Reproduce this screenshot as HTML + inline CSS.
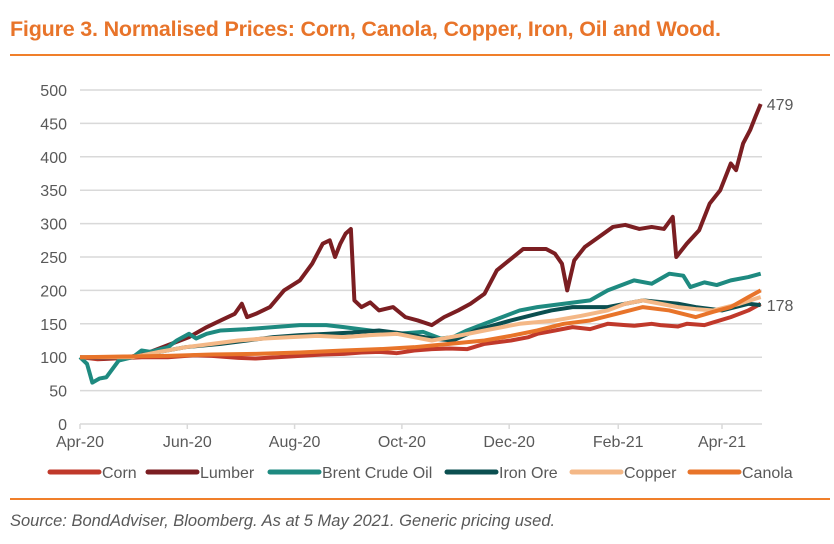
<!DOCTYPE html>
<html><head><meta charset="utf-8"><style>
body{margin:0;background:#fff;font-family:"Liberation Sans",Arial,sans-serif;}
#wrap{position:relative;width:834px;height:544px;overflow:hidden}
.title{position:absolute;left:10px;top:17px;font-size:21.5px;font-weight:bold;color:#E8742A;letter-spacing:-0.2px;white-space:nowrap}
.rule{position:absolute;left:10px;width:820px;height:2px;background:#F07F2A}
.src{position:absolute;left:10px;top:512px;font-size:16.5px;font-style:italic;color:#595959;white-space:nowrap}
</style></head><body>
<div id="wrap">
<div class="title">Figure 3. Normalised Prices: Corn, Canola, Copper, Iron, Oil and Wood.</div>
<div class="rule" style="top:54px"></div>
<svg id="chart" width="834" height="544" style="position:absolute;left:0;top:0"></svg>
<div class="rule" style="top:498px"></div>
<div class="src">Source: BondAdviser, Bloomberg. As at 5 May 2021. Generic pricing used.</div>
</div>
<script>
const yTicks=[0,50,100,150,200,250,300,350,400,450,500];
const xTickLabels=["Apr-20","Jun-20","Aug-20","Oct-20","Dec-20","Feb-21","Apr-21"];
const xTickDays=[0,61,122,183,244,306,365];
const corn=[[0,100],[10,97],[20,98],[35,100],[50,100],[65,103],[75,102],[90,99],[100,98],[112,100],[125,102],[138,104],[150,105],[160,107],[170,108],[180,106],[190,110],[200,112],[210,113],[220,112],[230,120],[245,125],[255,130],[260,135],[270,140],[280,145],[290,142],[300,150],[310,148],[315,147],[325,150],[330,148],[340,146],[345,150],[355,148],[360,152],[370,160],[380,170],[387,180]];
const lumber=[[0,100],[14,98],[28,100],[40,108],[50,118],[62,130],[72,145],[80,155],[88,165],[92,180],[95,160],[100,165],[108,175],[116,200],[125,215],[132,240],[138,270],[142,275],[145,250],[148,270],[151,285],[154,292],[156,185],[160,175],[165,182],[170,170],[178,175],[185,160],[192,155],[200,148],[207,160],[215,170],[222,180],[230,195],[237,230],[244,245],[252,262],[258,262],[265,262],[270,255],[274,240],[277,200],[281,245],[287,265],[295,280],[303,295],[310,298],[318,292],[325,295],[332,292],[337,310],[339,250],[345,270],[352,290],[358,330],[364,350],[370,390],[373,380],[377,420],[381,440],[384,460],[387,479]];
const brent=[[0,100],[4,90],[7,62],[11,68],[15,70],[22,95],[30,100],[35,110],[40,108],[50,115],[55,125],[62,135],[66,128],[72,135],[80,140],[95,142],[110,145],[125,148],[140,148],[150,145],[165,140],[180,135],[195,138],[205,128],[212,130],[220,140],[230,150],[240,160],[250,170],[260,175],[275,180],[290,185],[300,200],[315,215],[325,210],[335,225],[343,222],[347,205],[355,212],[362,208],[370,215],[380,220],[387,225]];
const iron=[[0,100],[30,100],[45,108],[60,115],[80,120],[95,125],[110,130],[125,133],[140,135],[155,137],[170,140],[185,135],[200,128],[212,125],[225,140],[245,155],[260,165],[268,170],[280,175],[300,175],[320,185],[340,180],[350,175],[365,170],[380,180],[387,178]];
const copper=[[0,100],[30,100],[45,108],[60,115],[75,120],[90,125],[105,128],[120,130],[135,132],[150,130],[165,133],[180,135],[190,130],[200,125],[215,132],[230,140],[250,150],[270,155],[285,162],[300,170],[310,180],[320,185],[330,180],[340,175],[350,172],[360,170],[375,180],[387,190]];
const canola=[[0,100],[25,101],[50,102],[75,104],[100,105],[125,107],[150,110],[170,112],[190,115],[210,120],[230,125],[245,132],[260,140],[275,150],[290,155],[305,165],[320,175],[335,170],[350,160],[360,168],[370,175],[380,190],[387,200]];
const series=[["Corn",corn,"#C0392B"],["Lumber",lumber,"#7B1E22"],["Brent Crude Oil",brent,"#1E8A80"],["Iron Ore",iron,"#0B4F50"],["Copper",copper,"#F4B887"],["Canola",canola,"#E8742A"]];
const NS="http://www.w3.org/2000/svg",svg=document.getElementById("chart");
const X0=80,X1=762,Y0=424,Y500=90;
const x=d=>X0+d*(642/365), y=v=>Y0-v*(Y0-Y500)/500;
function mk(t,a){const e=document.createElementNS(NS,t);for(const k in a)e.setAttribute(k,a[k]);svg.appendChild(e);return e;}
yTicks.forEach(v=>{
 const g=mk("line",{x1:X0,x2:X1,y1:y(v),y2:y(v),stroke:"#d9d9d9","stroke-width":1.5});
 
 
 const t=mk("text",{x:67,y:y(v)+6,"text-anchor":"end","font-size":16,fill:"#595959","font-family":"Liberation Sans"});
 t.textContent=v;
 
 
});
xTickDays.forEach((d,i)=>{
 const tk=mk("line",{x1:x(d),x2:x(d),y1:Y0,y2:Y0+5,stroke:"#d9d9d9","stroke-width":1.5});
 
 
 const t=mk("text",{x:x(d),y:447,"text-anchor":"middle","font-size":16,fill:"#595959","font-family":"Liberation Sans"});
 t.textContent=xTickLabels[i];
 
 
});
series.forEach(s=>{
 const p=mk("polyline",{points:s[1].map(q=>x(q[0])+","+y(q[1])).join(" "),fill:"none",stroke:s[2],"stroke-width":4,"stroke-linejoin":"round"});
 
 
});
const lastL=lumber[lumber.length-1], lastI=iron[iron.length-1];
const l1=mk("text",{x:x(lastL[0])+6,y:y(lastL[1])+6,"font-size":16,fill:"#595959","font-family":"Liberation Sans"});l1.textContent=lastL[1];


const l2=mk("text",{x:x(lastI[0])+6,y:y(lastI[1])+6,"font-size":16,fill:"#595959","font-family":"Liberation Sans"});l2.textContent=lastI[1];


const legX=[50,148,270,447,572,690];
series.forEach((s,i)=>{
 const ln=mk("line",{x1:legX[i],x2:legX[i]+49,y1:472,y2:472,stroke:s[2],"stroke-width":5,"stroke-linecap":"round"});
 
 
 const t=mk("text",{x:legX[i]+52,y:478,"font-size":16,fill:"#595959","font-family":"Liberation Sans"});
 t.textContent=s[0];
 
 
});
</script>
</body></html>
